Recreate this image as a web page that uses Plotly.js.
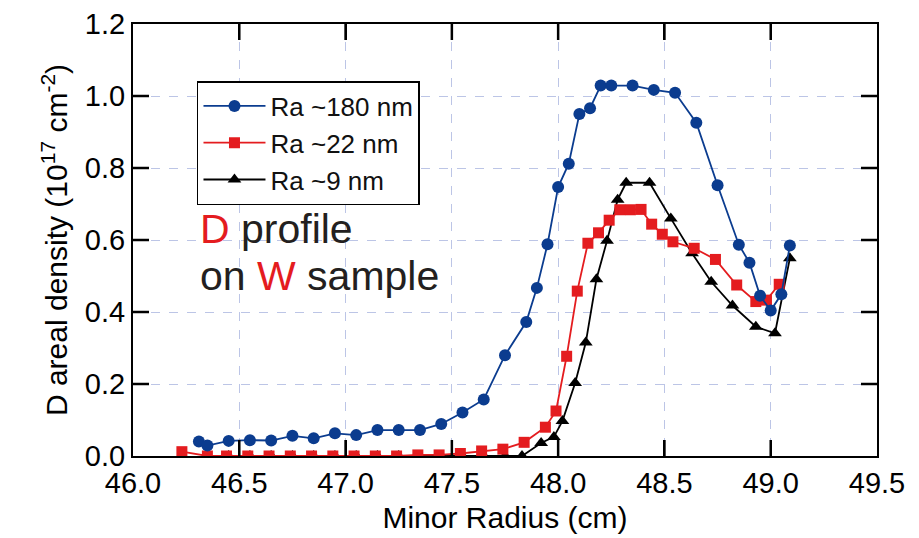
<!DOCTYPE html>
<html>
<head>
<meta charset="utf-8">
<script src="https://cdn.plot.ly/plotly-3.0.1.min.js"></script>
<style>html,body{margin:0;padding:0;background:#fff;}#chart{width:919px;height:538px;}</style>
</head>
<body>
<div id="chart"></div>
<script>
// Ra ~180 nm
const xBlue = [46.31,46.35,46.45,46.55,46.65,46.75,46.85,46.95,47.05,47.15,47.25,47.35,47.45,47.55,47.65,47.75,47.85,47.90,47.95,48.00,48.05,48.10,48.15,48.20,48.25,48.35,48.45,48.55,48.65,48.75,48.85,48.90,48.95,49.00,49.05,49.09];
const yBlue = [0.040,0.029,0.042,0.044,0.043,0.056,0.049,0.063,0.058,0.072,0.072,0.072,0.089,0.121,0.157,0.280,0.372,0.467,0.588,0.747,0.812,0.950,0.966,1.029,1.029,1.029,1.017,1.009,0.926,0.752,0.587,0.537,0.445,0.404,0.449,0.585];
// Ra ~22 nm
const xRed = [46.23,46.35,46.44,46.54,46.64,46.74,46.84,46.94,47.04,47.14,47.24,47.34,47.44,47.54,47.64,47.74,47.84,47.94,47.99,48.04,48.09,48.14,48.19,48.24,48.29,48.34,48.39,48.44,48.49,48.54,48.64,48.74,48.84,48.93,48.98,49.04];
const yRed = [0.012,0.000,0.000,0.000,0.000,0.000,0.000,0.000,0.000,0.000,0.000,0.003,0.003,0.007,0.014,0.019,0.038,0.080,0.125,0.277,0.458,0.591,0.620,0.655,0.684,0.684,0.685,0.644,0.616,0.595,0.577,0.546,0.475,0.429,0.433,0.477];
// Ra ~9 nm
const xBlack = [46.35,46.45,46.55,46.65,46.75,46.85,46.95,47.05,47.15,47.25,47.35,47.45,47.55,47.65,47.75,47.83,47.92,47.98,48.02,48.08,48.13,48.18,48.23,48.28,48.32,48.43,48.53,48.63,48.72,48.82,48.93,49.02,49.09];
const yBlack = [0.000,0.000,0.000,0.000,0.000,0.000,0.000,0.000,0.000,0.000,0.000,0.000,0.000,0.000,0.000,0.000,0.036,0.053,0.097,0.203,0.315,0.491,0.598,0.712,0.759,0.759,0.660,0.563,0.484,0.418,0.359,0.341,0.549];
const seriesNames = ['Ra ~180 nm','Ra ~22 nm','Ra ~9 nm'];
const xTicks = [46.0,46.5,47.0,47.5,48.0,48.5,49.0,49.5];
const yTicks = [0.0,0.2,0.4,0.6,0.8,1.0,1.2];

const FONT = 'Liberation Sans, Arial, sans-serif';
const BLUE = '#0b3c8f', RED = '#e41c1f', BLACK = '#000000';

const traces = [
  {x:xBlue, y:yBlue, name:seriesNames[0], type:'scatter', mode:'lines+markers',
   line:{color:BLUE,width:1.8}, marker:{symbol:'circle',size:12,color:BLUE}},
  {x:xRed, y:yRed, name:seriesNames[1], type:'scatter', mode:'lines+markers',
   line:{color:RED,width:1.8}, marker:{symbol:'square',size:11,color:RED}},
  {x:xBlack, y:yBlack, name:seriesNames[2], type:'scatter', mode:'lines+markers',
   line:{color:BLACK,width:1.8}, marker:{symbol:'triangle-up',size:12,color:BLACK}}
];
const ordered = [traces[2], traces[1], traces[0]];
ordered[0].legendrank = 3; ordered[1].legendrank = 2; ordered[2].legendrank = 1;

// plot area size (px) used to express the inside tick length in paper units
const PW = 919 - 133 - 42, PH = 538 - 24 - 82, TL = 16;
const tickShapes = [];
xTicks.slice(1, -1).forEach(v => {
  tickShapes.push({type:'line', xref:'x', yref:'paper', x0:v, x1:v, y0:0, y1:TL/PH, layer:'above', line:{color:'#000', width:2.5}});
  tickShapes.push({type:'line', xref:'x', yref:'paper', x0:v, x1:v, y0:1 - TL/PH, y1:1, layer:'above', line:{color:'#000', width:2.5}});
});
yTicks.slice(1, -1).forEach(v => {
  tickShapes.push({type:'line', xref:'paper', yref:'y', x0:0, x1:TL/PW, y0:v, y1:v, layer:'above', line:{color:'#000', width:2.5}});
  tickShapes.push({type:'line', xref:'paper', yref:'y', x0:1 - TL/PW, x1:1, y0:v, y1:v, layer:'above', line:{color:'#000', width:2.5}});
});

const axisCommon = {
  showline:true, linecolor:'#000', linewidth:2, mirror:'ticks',
  ticks:'inside', ticklen:16, tickwidth:2, tickcolor:'#000',
  showgrid:true, gridcolor:'#bcc5e6', griddash:'dash', gridwidth:1,
  zeroline:false, tickfont:{family:FONT,size:29,color:'#000'}
};

const layout = {
  width:919, height:538,
  margin:{l:133, r:42, t:24, b:82},
  paper_bgcolor:'#fff', plot_bgcolor:'#fff',
  showlegend:true,
  legend:{x:0.086, y:0.868, xanchor:'left', yanchor:'top',
    bgcolor:'#fff', bordercolor:'#000', borderwidth:1.5,
    font:{family:FONT,size:26,color:'#111'}, itemwidth:62, traceorder:'normal'},
  xaxis:Object.assign({}, axisCommon, {
    range:[46.0,49.5], tickvals:xTicks, tickformat:'.1f',
    title:{text:'Minor Radius (cm)', font:{family:FONT,size:30,color:'#000'}, standoff:9}
  }),
  yaxis:Object.assign({}, axisCommon, {
    range:[0,1.2], tickvals:yTicks, tickformat:'.1f',
    title:{text:'D areal density (10<sup>17</sup> cm<sup>-2</sup>)', font:{family:FONT,size:30,color:'#000'}, standoff:8}
  }),
  shapes: tickShapes,
  annotations:[
    {xref:'paper', yref:'paper', x:(198-133)/744, y:(456-229)/432, xanchor:'left', yanchor:'middle',
     text:'<span style="color:#e41c1f">D</span> profile', showarrow:false,
     font:{family:FONT,size:41,color:'#231f20'}},
    {xref:'paper', yref:'paper', x:(198-133)/744, y:(456-276)/432, xanchor:'left', yanchor:'middle',
     text:'on <span style="color:#e41c1f">W</span> sample', showarrow:false,
     font:{family:FONT,size:41,color:'#231f20'}}
  ]
};

Plotly.newPlot('chart', ordered, layout, {displayModeBar:false, staticPlot:true});
</script>
</body>
</html>
